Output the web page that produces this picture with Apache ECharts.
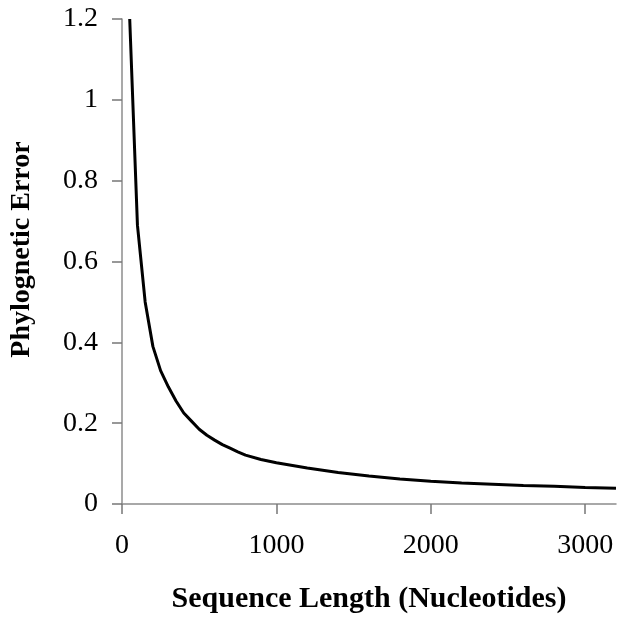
<!DOCTYPE html>
<html>
<head>
<meta charset="utf-8">
<script src="https://cdn.jsdelivr.net/npm/echarts@6/dist/echarts.min.js"></script>
<style>
html, body { margin: 0; padding: 0; background: #fff; }
#chart { width: 624px; height: 632px; }
</style>
</head>
<body>
<div id="chart"></div>
<script>
// sequence length (nucleotides)
var seqLength = [50, 100, 150, 200, 250, 300, 350, 400, 450, 500, 550, 600, 650, 700, 750, 800, 900, 1000, 1200, 1400, 1600, 1800, 2000, 2200, 2400, 2600, 2800, 3000, 3200];
// phylogenetic error
var phyloError = [1.2, 0.69, 0.5, 0.39, 0.33, 0.29, 0.255, 0.225, 0.205, 0.185, 0.17, 0.158, 0.147, 0.138, 0.129, 0.121, 0.11, 0.102, 0.089, 0.078, 0.069, 0.062, 0.056, 0.052, 0.049, 0.046, 0.044, 0.041, 0.039];
var xTicks = [0, 1000, 2000, 3000];

function initErrorChart(id) {
    var points = [];
    for (let i = 0; i < seqLength.length; i++) {
        points.push([seqLength[i], phyloError[i]]);
    }
    var font = '"Liberation Serif", "DejaVu Serif", serif';
    var axisGray = '#8c8c8c';
    var option = {
        animation: false,
        backgroundColor: '#fff',
        grid: {
            left: 121,
            right: 8,
            top: 19,
            bottom: 128,
            containLabel: false
        },
        xAxis: {
            type: 'value',
            min: 0,
            max: 3200,
            interval: 1000,
            name: 'Sequence Length (Nucleotides)',
            nameLocation: 'middle',
            nameGap: 80,
            nameTextStyle: {
                fontFamily: font,
                fontWeight: 'bold',
                fontSize: 30,
                color: '#000'
            },
            axisLine: { show: true, onZero: false, lineStyle: { color: axisGray, width: 1.5 } },
            axisTick: {
                show: true,
                length: 10,
                customValues: xTicks,
                lineStyle: { color: '#777', width: 1.5 }
            },
            axisLabel: {
                customValues: xTicks,
                margin: 28,
                fontFamily: font,
                fontSize: 28,
                color: '#000',
                formatter: function (v) {
                    return String(v);
                }
            },
            splitLine: { show: false }
        },
        yAxis: {
            type: 'value',
            min: 0,
            max: 1.2,
            interval: 0.2,
            name: 'Phylognetic Error',
            nameLocation: 'middle',
            nameGap: 86,
            nameTextStyle: {
                fontFamily: font,
                fontWeight: 'bold',
                fontSize: 28,
                color: '#000',
                padding: [0, 0, 0, 24]
            },
            axisLine: { show: true, onZero: false, lineStyle: { color: axisGray, width: 1.5 } },
            axisTick: {
                show: true,
                length: 10,
                lineStyle: { color: '#777', width: 1.5 }
            },
            axisLabel: {
                margin: 24,
                fontFamily: font,
                fontSize: 28,
                color: '#000'
            },
            splitLine: { show: false }
        },
        series: [{
            type: 'line',
            data: points,
            smooth: false,
            showSymbol: false,
            symbol: 'none',
            clip: true,
            lineStyle: { color: '#000', width: 3 }
        }]
    };
    var myChart = echarts.init(document.getElementById(id));
    myChart.setOption(option);
    return myChart;
}

initErrorChart('chart');
</script>
</body>
</html>
